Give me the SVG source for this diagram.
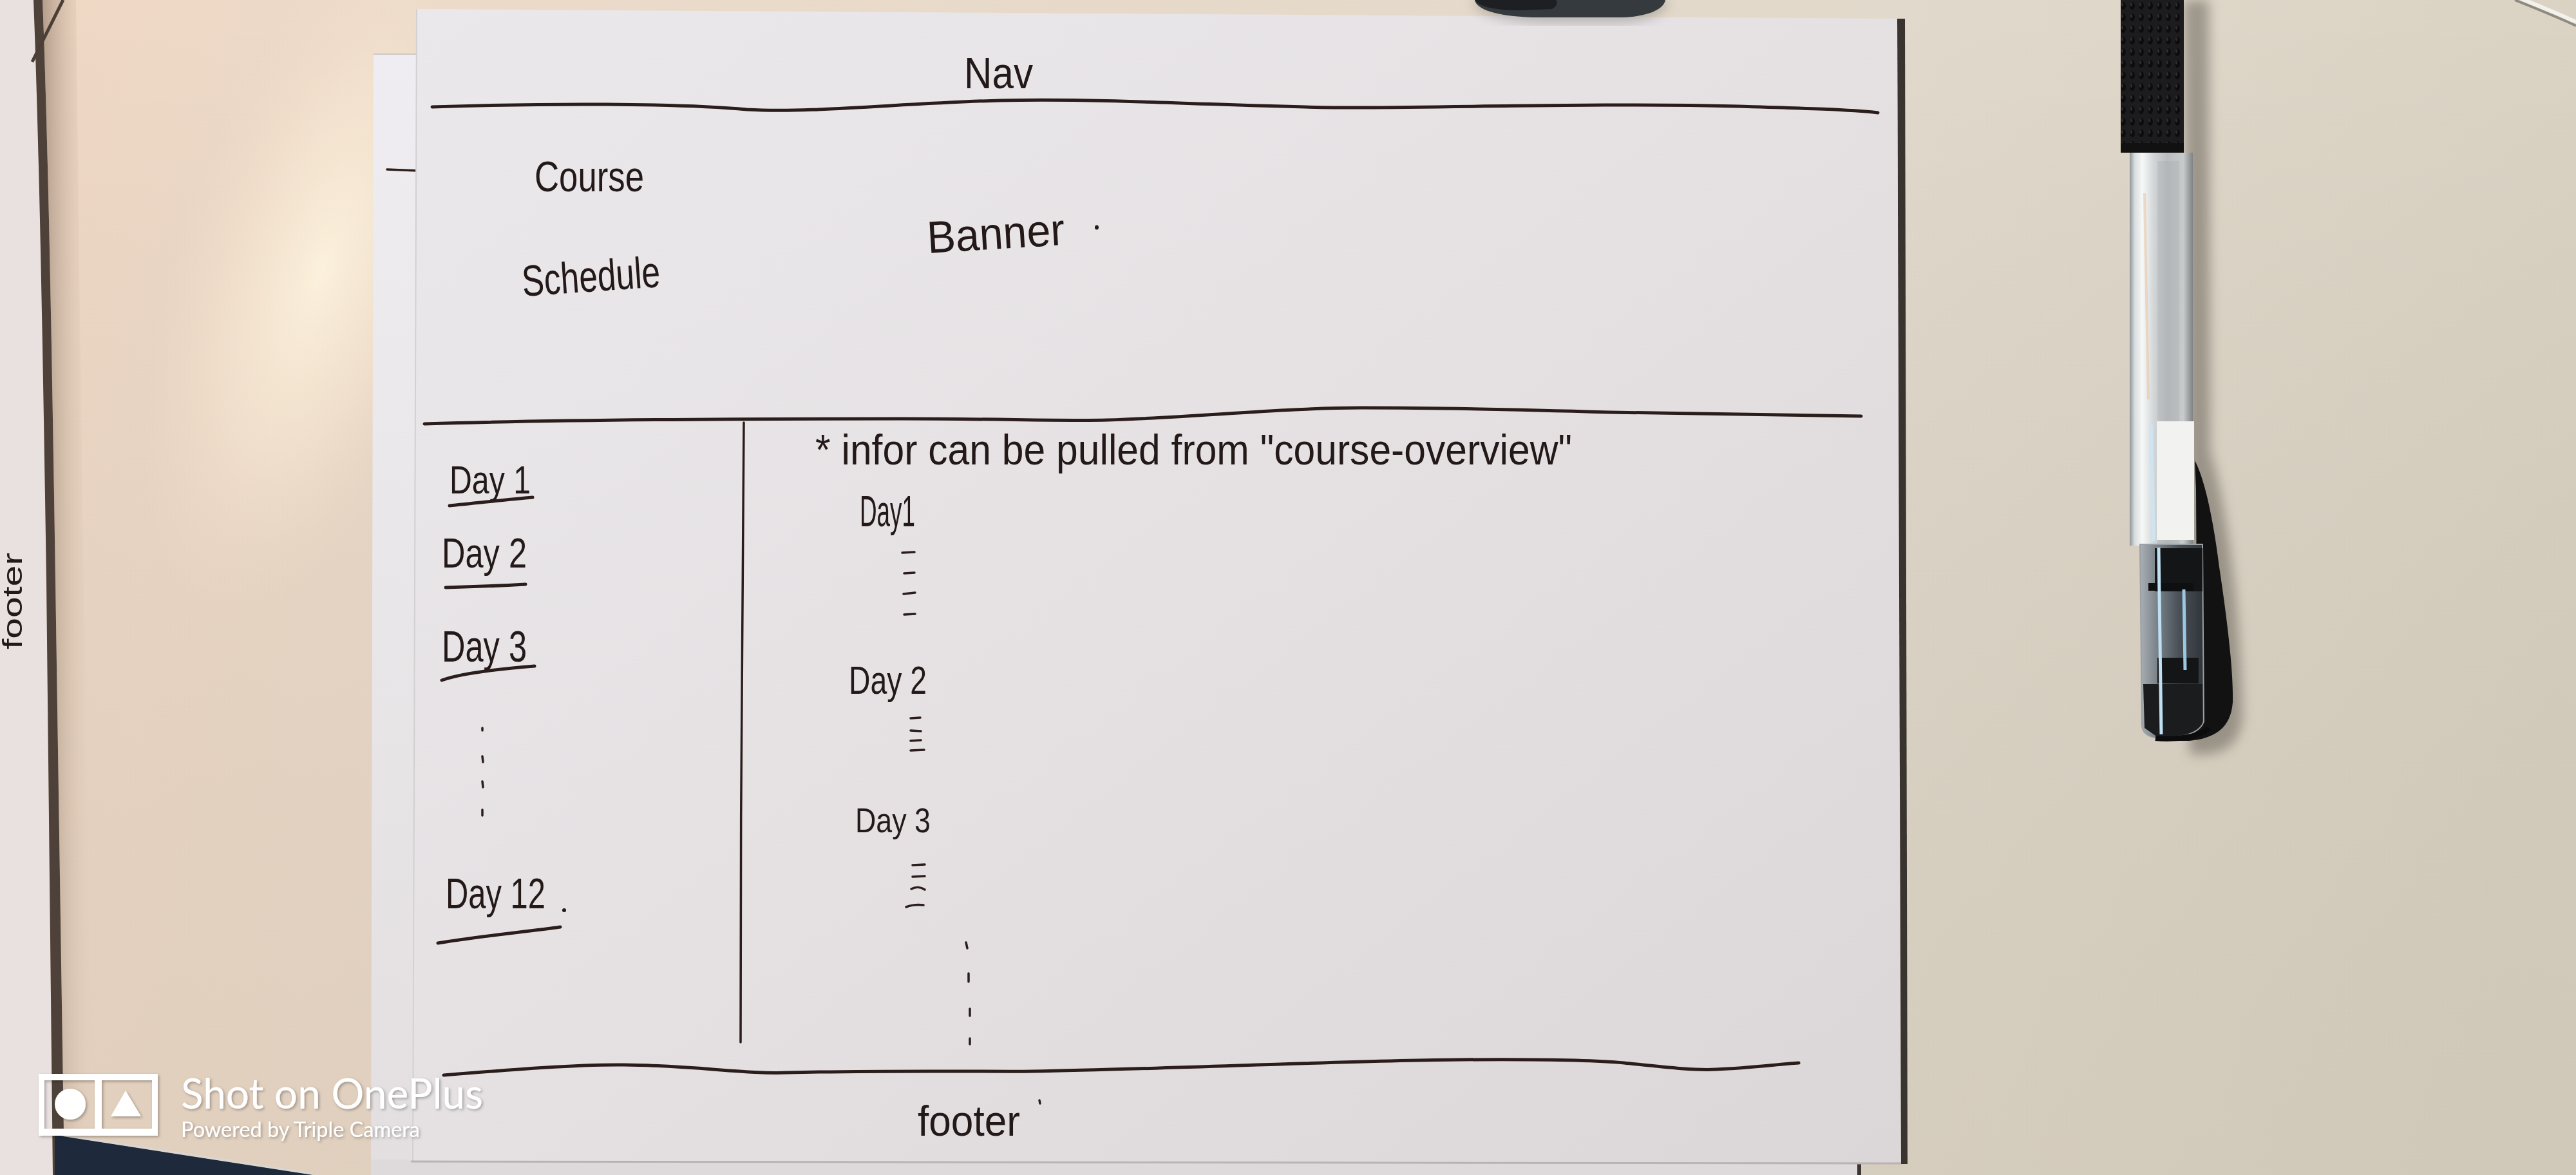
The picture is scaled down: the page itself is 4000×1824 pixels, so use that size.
<svg xmlns="http://www.w3.org/2000/svg" width="4000" height="1824" viewBox="0 0 4000 1824">
  <defs>
    <linearGradient id="deskBase" x1="0" y1="0" x2="4000" y2="900" gradientUnits="userSpaceOnUse">
      <stop offset="0" stop-color="#efd8c4"/>
      <stop offset="0.16" stop-color="#ecdac9"/>
      <stop offset="0.7" stop-color="#e1d9cb"/>
      <stop offset="1" stop-color="#d9d2c3"/>
    </linearGradient>
    <linearGradient id="deskFloor" x1="0" y1="0" x2="0" y2="1">
      <stop offset="0" stop-color="#000" stop-opacity="0"/>
      <stop offset="1" stop-color="#6a5a40" stop-opacity="0.08"/>
    </linearGradient>
    <radialGradient id="deskGlow" cx="0" cy="0" r="1" gradientUnits="userSpaceOnUse" gradientTransform="translate(500 420) rotate(18) scale(230 560)">
      <stop offset="0" stop-color="#fff6e0" stop-opacity="0.85"/>
      <stop offset="0.55" stop-color="#f9ead4" stop-opacity="0.45"/>
      <stop offset="1" stop-color="#f2dfcb" stop-opacity="0"/>
    </radialGradient>
    <linearGradient id="sheet" x1="0" y1="0" x2="1" y2="1">
      <stop offset="0" stop-color="#ebe8eb"/>
      <stop offset="0.5" stop-color="#e5e1e3"/>
      <stop offset="1" stop-color="#dbd6d7"/>
    </linearGradient>
    <linearGradient id="underSheet" x1="0" y1="0" x2="0" y2="1">
      <stop offset="0" stop-color="#efedf1"/>
      <stop offset="1" stop-color="#e3dfe0"/>
    </linearGradient>
    <linearGradient id="edgeShade" x1="0" y1="0" x2="1" y2="0">
      <stop offset="0" stop-color="#6b5544" stop-opacity="0.45"/>
      <stop offset="1" stop-color="#e8d2bc" stop-opacity="0"/>
    </linearGradient>
    <linearGradient id="barrel" x1="0" y1="0" x2="1" y2="0">
      <stop offset="0" stop-color="#8e9498"/>
      <stop offset="0.08" stop-color="#d9dee0"/>
      <stop offset="0.2" stop-color="#f7f8f8"/>
      <stop offset="0.38" stop-color="#d2d6d7"/>
      <stop offset="0.6" stop-color="#b9bdbe"/>
      <stop offset="0.85" stop-color="#c8cbcb"/>
      <stop offset="1" stop-color="#7f8386"/>
    </linearGradient>
    <linearGradient id="capBody" x1="0" y1="0" x2="1" y2="0">
      <stop offset="0" stop-color="#aab0b4"/>
      <stop offset="0.25" stop-color="#7d858c"/>
      <stop offset="0.6" stop-color="#4a5158"/>
      <stop offset="1" stop-color="#30353a"/>
    </linearGradient>
    <pattern id="grip" width="14" height="18" patternUnits="userSpaceOnUse">
      <rect width="14" height="18" fill="#1c1c1e"/>
      <ellipse cx="7" cy="9" rx="4" ry="6" fill="#0c0c0d"/>
      <ellipse cx="5.5" cy="7" rx="1.6" ry="3" fill="#3b3b3e" opacity="0.7"/>
    </pattern>
    <filter id="soft" x="-50%" y="-10%" width="200%" height="120%">
      <feGaussianBlur stdDeviation="9"/>
    </filter>
    <filter id="wmShadow" x="-10%" y="-30%" width="120%" height="160%">
      <feDropShadow dx="2" dy="2" stdDeviation="2" flood-color="#000" flood-opacity="0.3"/>
    </filter>
    <style>
      .ink { fill: none; stroke: #2a1d1c; stroke-width: 5; stroke-linecap: round; stroke-linejoin: round; }
      .thin { stroke-width: 3.5; }
      .hand { font-family: "Liberation Sans", Arial, sans-serif; fill: #231919; }
      .wm { font-family: Lato, "Open Sans", sans-serif; fill: #ffffff; }
    </style>
  </defs>

  <!-- desk surface -->
  <g id="desk">
    <rect width="4000" height="1824" fill="url(#deskBase)"/>
    <rect width="4000" height="1824" fill="url(#deskFloor)"/>
    <rect width="4000" height="1824" fill="url(#deskGlow)"/>
    <!-- neighbouring sheet on the far left -->
    <path d="M0,0 L52,0 C60,200 66,500 72,900 L82,1824 L0,1824 Z" fill="#e9e1e0"/>
    <path d="M52,0 L66,0 C74,200 80,500 86,900 L100,1824 L82,1824 L72,900 C66,500 60,200 52,0 Z" fill="#4e4139"/>
    <path d="M66,0 L118,0 C124,500 132,1200 148,1824 L100,1824 L86,900 C80,500 74,200 66,0 Z" fill="url(#edgeShade)"/>
    <path d="M98,0 L50,96" stroke="#4a3e36" stroke-width="5" fill="none"/>
    <text class="hand" transform="translate(34,1008) rotate(-90)" font-size="42" textLength="150" lengthAdjust="spacingAndGlyphs">footer</text>
    <!-- dark object in the lower left corner -->
    <polygon points="85,1762 486,1824 85,1824" fill="#1e2a3c"/>
    <path d="M85,1760 L486,1822" stroke="#d9d6d2" stroke-width="3" fill="none"/>
    <!-- edge of something in the top right corner -->
    <path d="M3905,0 C3940,14 3975,28 4000,40" stroke="#8f8a80" stroke-width="4" fill="none"/>
    <path d="M3910,-4 C3945,10 3978,24 4000,34" stroke="#f3f1ec" stroke-width="6" fill="none"/>
  </g>

  <!-- sheet underneath -->
  <g id="under-sheet">
    <polygon points="580,84 660,84 650,1824 576,1824" fill="url(#underSheet)"/>
    <path d="M580,84 L650,84" stroke="#cfc9c8" stroke-width="2" fill="none"/>
    <polygon points="576,1800 2885,1800 2885,1824 576,1824" fill="#dedadb"/>
    <rect x="2884" y="1800" width="6" height="24" fill="#3c3532"/>
    <path d="M601,263 L649,265" class="ink thin"/>
  </g>

  <!-- main sheet -->
  <g id="main-sheet">
    <polygon points="2946,29 2958,29 2962,1807 2950,1807" fill="#3a3430"/>
    <polygon points="647,14 2946,29 2952,1806 638,1803" fill="url(#sheet)"/>
    <path d="M647,14 L641,1803" stroke="#d4cfd1" stroke-width="2" fill="none"/>
    <path d="M638,1803 L2952,1806" stroke="#b9b3b3" stroke-width="3" fill="none"/>
  </g>

  <!-- pen-drawn rules of the wireframe -->
  <g id="connectors">
    <path id="nav-rule" class="ink" d="M671,166 C850,160 1050,160 1160,170 C1260,176 1400,160 1553,156 C1750,152 1950,168 2114,167 C2300,166 2500,160 2700,165 C2800,168 2870,170 2916,175"/>
    <path id="banner-rule" class="ink" d="M659,658 C850,652 1150,650 1400,650 C1550,650 1650,654 1720,652 C1850,648 2000,633 2114,633 C2250,633 2400,637 2500,640 C2700,643 2850,646 2890,646"/>
    <path id="column-rule" class="ink thin" d="M1155,656 C1152,900 1150,1300 1150,1618"/>
    <path id="footer-rule" class="ink" d="M689,1669 C800,1660 900,1652 969,1653 C1080,1654 1160,1668 1224,1665 C1400,1661 1550,1664 1604,1663 C1800,1660 2100,1646 2267,1645 C2400,1644 2480,1646 2522,1650 C2580,1656 2630,1662 2665,1660 C2720,1658 2760,1652 2793,1650"/>
  </g>

  <!-- header areas -->
  <g id="nav">
    <text class="hand" x="1497" y="137" font-size="68" textLength="107" lengthAdjust="spacingAndGlyphs">Nav</text>
  </g>
  <g id="course-schedule">
    <text class="hand" x="830" y="297" font-size="66" textLength="170" lengthAdjust="spacingAndGlyphs">Course</text>
    <text class="hand" transform="translate(812,460) rotate(-4)" font-size="68" textLength="215" lengthAdjust="spacingAndGlyphs">Schedule</text>
  </g>
  <g id="banner">
    <text class="hand" transform="translate(1441,393) rotate(-3.5)" font-size="70" textLength="214" lengthAdjust="spacingAndGlyphs">Banner</text>
    <ellipse cx="1703" cy="353" rx="3" ry="3.5" fill="#231919"/>
  </g>

  <!-- left column: list of days -->
  <g id="day-list">
    <text class="hand" x="698" y="766" font-size="62" textLength="126" lengthAdjust="spacingAndGlyphs">Day 1</text>
    <path class="ink" d="M698,785 C740,781 790,775 827,772"/>
    <text class="hand" x="686" y="881" font-size="64" textLength="132" lengthAdjust="spacingAndGlyphs">Day 2</text>
    <path class="ink" d="M692,912 C730,911 780,909 816,907"/>
    <text class="hand" x="686" y="1027" font-size="68" textLength="132" lengthAdjust="spacingAndGlyphs">Day 3</text>
    <path class="ink" d="M686,1056 C720,1044 780,1038 830,1034"/>
    <g class="ink thin">
      <path d="M749,1130 L749,1134"/>
      <path d="M749,1174 L750,1183"/>
      <path d="M749,1213 L750,1222"/>
      <path d="M749,1257 L749,1266"/>
    </g>
    <text class="hand" x="692" y="1410" font-size="66" textLength="155" lengthAdjust="spacingAndGlyphs">Day 12</text>
    <ellipse cx="876" cy="1413" rx="3" ry="3" fill="#231919"/>
    <path class="ink" d="M680,1464 C730,1455 820,1446 870,1439"/>
  </g>

  <!-- right column: day details -->
  <g id="day-details">
    <text class="hand" x="1266" y="721" font-size="66" textLength="1175" lengthAdjust="spacingAndGlyphs">* infor can be pulled from "course-overview"</text>
    <text class="hand" x="1335" y="817" font-size="68" textLength="86" lengthAdjust="spacingAndGlyphs">Day1</text>
    <g class="ink thin">
      <path d="M1401,858 L1420,857"/>
      <path d="M1404,890 L1420,889"/>
      <path d="M1403,922 L1421,920"/>
      <path d="M1404,954 L1421,953"/>
    </g>
    <text class="hand" x="1318" y="1077" font-size="62" textLength="121" lengthAdjust="spacingAndGlyphs">Day 2</text>
    <g class="ink thin">
      <path d="M1414,1115 L1429,1114"/>
      <path d="M1414,1134 L1430,1135"/>
      <path d="M1414,1150 L1430,1149"/>
      <path d="M1414,1165 L1435,1164"/>
    </g>
    <text class="hand" x="1328" y="1292" font-size="54" textLength="117" lengthAdjust="spacingAndGlyphs">Day 3</text>
    <g class="ink thin">
      <path d="M1417,1343 L1436,1342"/>
      <path d="M1417,1361 L1436,1360"/>
      <path d="M1415,1380 C1422,1376 1430,1377 1436,1381"/>
      <path d="M1407,1408 C1415,1405 1425,1404 1434,1405"/>
    </g>
    <g class="ink thin">
      <path d="M1500,1463 L1502,1472"/>
      <path d="M1504,1511 L1504,1524"/>
      <path d="M1506,1566 L1506,1577"/>
      <path d="M1506,1612 L1506,1621"/>
    </g>
  </g>

  <g id="footer">
    <text class="hand" x="1425" y="1763" font-size="66" textLength="159" lengthAdjust="spacingAndGlyphs">footer</text>
    <path class="ink thin" d="M1614,1708 L1615,1713"/>
  </g>

  <!-- pen lying on the desk -->
  <g id="pen">
    <path d="M3391,0 L3430,0 L3432,700 C3450,760 3478,900 3482,1110 C3480,1165 3440,1175 3400,1170 Z" fill="#5e594f" opacity="0.5" filter="url(#soft)"/>
    <rect x="3293" y="-6" width="98" height="243" rx="5" fill="url(#grip)"/>
    <rect x="3293" y="222" width="98" height="15" fill="#111112"/>
    <rect x="3307" y="237" width="98" height="610" fill="url(#barrel)"/>
    <rect x="3350" y="250" width="34" height="600" fill="#a9adae" opacity="0.35"/>
    <path d="M3330,300 L3336,620" stroke="#e9c7a6" stroke-width="4" opacity="0.6" fill="none"/>
    <rect x="3349" y="654" width="58" height="184" fill="#f2f2f0"/>
    <path d="M3340,660 L3344,840" stroke="#cfe3f0" stroke-width="6" fill="none"/>
    <!-- clip -->
    <path d="M3408,715 C3422,740 3436,800 3446,880 C3458,960 3468,1040 3467,1090 C3464,1130 3440,1146 3400,1150 L3350,1150 C3370,1140 3400,1130 3412,1100 L3410,760 Z" fill="#121213"/>
    <!-- clear lower section with its inner parts -->
    <path d="M3323,845 L3420,845 L3422,1120 C3416,1138 3390,1146 3350,1146 C3334,1144 3326,1136 3326,1125 Z" fill="url(#capBody)" stroke="#9aa0a4" stroke-width="2"/>
    <rect x="3346" y="851" width="74" height="67" fill="#141516"/>
    <rect x="3336" y="905" width="70" height="12" fill="#0e0f10"/>
    <rect x="3350" y="1021" width="64" height="40" fill="#141516"/>
    <path d="M3328,1062 L3420,1062 L3420,1122 C3412,1138 3388,1144 3350,1144 L3330,1130 Z" fill="#1a1c1e"/>
    <path d="M3352,850 L3356,1140" stroke="#bfe0f2" stroke-width="5" fill="none"/>
    <path d="M3391,915 L3393,1040" stroke="#9cc7e0" stroke-width="5" fill="none"/>
    <path d="M3347,1146 C3380,1150 3420,1142 3430,1130" stroke="#0c0c0d" stroke-width="8" fill="none"/>
  </g>

  <!-- dark object at the top edge -->
  <g id="top-object">
    <path d="M2285,0 C2290,20 2330,34 2400,36 L2510,36 C2565,34 2590,18 2592,0 Z" fill="#8b8680" opacity="0.5" filter="url(#soft)"/>
    <path d="M2290,0 C2292,14 2322,25 2380,27 L2520,27 C2565,25 2584,12 2586,0 Z" fill="#353a3f"/>
    <path d="M2290,0 C2296,10 2320,16 2360,16 L2410,14 C2420,8 2418,2 2416,0 Z" fill="#1d1f22"/>
  </g>

  <!-- camera watermark -->
  <g id="watermark" filter="url(#wmShadow)">
    <path d="M60,1667 H245 V1763 H60 Z M69,1677 V1752 H147 V1677 Z M158,1677 V1752 H236 V1677 Z" fill="#ffffff" fill-rule="evenodd"/>
    <ellipse cx="109" cy="1714" rx="24" ry="24" fill="#ffffff"/>
    <polygon points="195,1693 172,1733 219,1733" fill="#ffffff"/>
    <text class="wm" x="281" y="1721" font-size="65" textLength="469" lengthAdjust="spacingAndGlyphs">Shot on OnePlus</text>
    <text class="wm" x="281" y="1765" font-size="33" textLength="371" lengthAdjust="spacingAndGlyphs">Powered by Triple Camera</text>
  </g>
</svg>
